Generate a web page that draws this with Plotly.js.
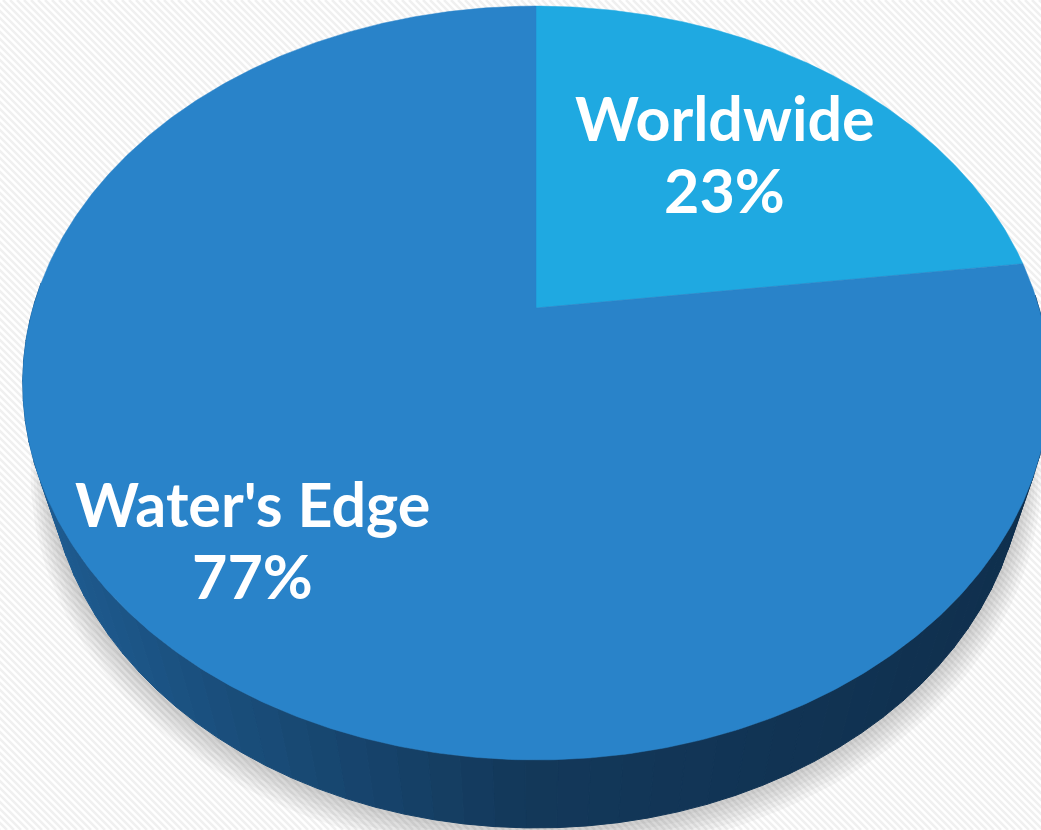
<!DOCTYPE html>
<html>
<head>
<meta charset="utf-8">
<script src="https://cdn.plot.ly/plotly-3.0.1.min.js"></script>
<style>
  html, body { margin: 0; padding: 0; background: #ffffff; }
  #chart { width: 1041px; height: 830px; }
</style>
</head>
<body>
<div id="chart"></div>
<script>
// ---- data ----
const categories = ["Worldwide", "Water's Edge"];
const values = [23, 77];
const sliceColors = ["#1fa9e1", "#2983c9"];
const labelRadius = [0.62, 0.755];

// ---- projection of the tilted 3D disc (layout parameters) ----
const W = 1041, Hpx = 830;
const P = { x0: 536, y0: 308, A: 503, B: 362, k: 0.199, T: 0.05, D: 80.5 };

function proj(u, v, bottom, grow, drop) {
  grow = grow || 1; drop = drop || 0;
  const w = 1 - P.k * v + (bottom ? P.T : 0);
  const X = P.x0 + grow * P.A * u / w;
  const Y = P.y0 + (grow * P.B * v + (bottom ? P.D : 0)) / w + drop;
  return [X, Y];
}
// theta measured clockwise from 12 o'clock, degrees
function rim(theta, bottom, grow, drop) {
  const t = theta * Math.PI / 180;
  return proj(Math.sin(t), -Math.cos(t), bottom, grow, drop);
}

const traces = [];

// soft shadow under the disc
for (let i = 6; i >= 1; i--) {
  const xs = [], ys = [];
  for (let th = 0; th <= 360; th += 2) {
    const p = rim(th, true, 1 + 0.006 * i, 2.5 * i);
    xs.push(p[0]); ys.push(p[1]);
  }
  traces.push({ type: 'scatter', mode: 'lines', x: xs, y: ys, fill: 'toself',
    fillcolor: 'rgba(0,0,0,0.03)', line: { width: 0 }, hoverinfo: 'skip' });
}

// side wall (front half), shaded left to right
function lerp(a, b, t) { return Math.round(a + (b - a) * t); }
function sideColor(x) {
  const stops = [[40, [30, 92, 145]], [520, [19, 56, 90]], [1040, [15, 47, 77]]];
  if (x <= stops[0][0]) return 'rgb(' + stops[0][1].join(',') + ')';
  for (let i = 0; i < stops.length - 1; i++) {
    const [xa, ca] = stops[i], [xb, cb] = stops[i + 1];
    if (x <= xb) {
      const t = (x - xa) / (xb - xa);
      return 'rgb(' + lerp(ca[0], cb[0], t) + ',' + lerp(ca[1], cb[1], t) + ',' + lerp(ca[2], cb[2], t) + ')';
    }
  }
  return 'rgb(' + stops[2][1].join(',') + ')';
}
const step = 3;
for (let th = 88; th < 272; th += step) {
  const a1 = rim(th, false), a2 = rim(th + step, false);
  const b2 = rim(th + step, true), b1 = rim(th, true);
  const col = sideColor((a1[0] + a2[0] + b1[0] + b2[0]) / 4);
  traces.push({ type: 'scatter', mode: 'lines',
    x: [a1[0], a2[0], b2[0], b1[0], a1[0]], y: [a1[1], a2[1], b2[1], b1[1], a1[1]],
    fill: 'toself', fillcolor: col, line: { color: col, width: 1 }, hoverinfo: 'skip' });
}

// top face slices
const total = values.reduce((s, v) => s + v, 0);
let start = 0;
const annotations = [];
values.forEach((val, i) => {
  const sweep = val / total * 360;
  const xs = [P.x0], ys = [P.y0];
  for (let th = start; th <= start + sweep + 1e-9; th += 0.5) {
    const p = rim(th, false);
    xs.push(p[0]); ys.push(p[1]);
  }
  const pe = rim(start + sweep, false);
  xs.push(pe[0], P.x0); ys.push(pe[1], P.y0);
  traces.push({ type: 'scatter', mode: 'lines', x: xs, y: ys, fill: 'toself',
    fillcolor: sliceColors[i], line: { color: sliceColors[i], width: 0.5 },
    name: categories[i], hoverinfo: 'name' });

  const mid = (start + sweep / 2) * Math.PI / 180;
  const r = labelRadius[i];
  const lp = proj(r * Math.sin(mid), -r * Math.cos(mid), false);
  const font = { family: 'Lato, "Open Sans", sans-serif', size: 61, color: '#ffffff', weight: 'bold' };
  annotations.push({ x: lp[0], y: lp[1], xref: 'x', yref: 'y', text: '<b>' + categories[i] + '</b>',
    showarrow: false, font: font, yshift: 36 });
  annotations.push({ x: lp[0], y: lp[1], xref: 'x', yref: 'y', text: '<b>' + Math.round(val / total * 100) + '%</b>',
    showarrow: false, font: font, yshift: -36 });
  start += sweep;
});

// faint diagonal background texture
const shapes = [];
for (let c = -Hpx; c < W; c += 7) {
  shapes.push({ type: 'line', xref: 'x', yref: 'y', x0: c, y0: 0, x1: c + Hpx, y1: Hpx,
    line: { color: '#f0f0f0', width: 2.5 }, layer: 'below' });
}

const layout = {
  width: W, height: Hpx,
  margin: { l: 0, r: 0, t: 0, b: 0 },
  paper_bgcolor: '#ffffff', plot_bgcolor: '#ffffff',
  showlegend: false,
  xaxis: { range: [0, W], visible: false, fixedrange: true },
  yaxis: { range: [Hpx, 0], visible: false, fixedrange: true },
  annotations: annotations,
  shapes: shapes
};

Plotly.newPlot('chart', traces, layout, { staticPlot: true, displayModeBar: false });
</script>
</body>
</html>
